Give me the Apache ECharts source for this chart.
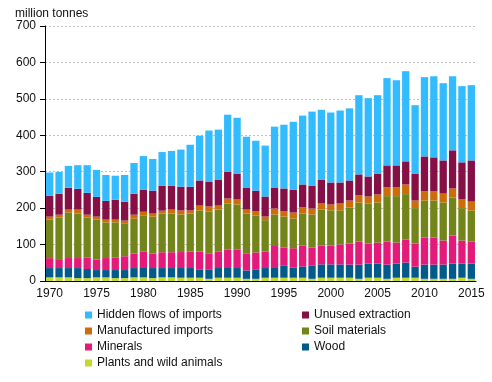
<!DOCTYPE html>
<html><head><meta charset="utf-8">
<script src="https://cdn.jsdelivr.net/npm/echarts@6/dist/echarts.min.js"></script>
<style>html,body{margin:0;padding:0;background:#fff}#c{width:492px;height:382px}</style>
</head><body><div id="c"></div>
<script>
var years = [];
for (var y = 1970; y <= 2015; y++) years.push(String(y));
var yTicks = [0,100,200,300,400,500,600,700];

var plants = [10,10,10,8,8,10,10,8,8,10,10,8,10,10,9,9,9,6,9,9,9,6,6,9,9,9,9,9,6,9,9,9,9,6,9,9,6,9,9,9,6,6,6,6,9,6];
var wood = [25.5,25.5,25.5,27.5,25,20,20,22,22,25.5,28,27.5,25.5,25.5,26.6,26.6,23,26,26.6,29,26.6,23,26,26.6,29,34,28.4,31,37,36.7,36.5,36.5,36,39,38.7,38.7,39,38.7,41.5,30.4,39,39,39,41.7,38.7,41.7];
var minerals = [27.3,24.5,27.5,27.5,31.7,29,33,34.7,38,40.1,43,40.1,43.5,43.5,43.9,45.4,49,44,45.4,48.8,51.2,47,46.5,45.4,58,49,52.6,57.7,49,52,52,54.8,57.8,63,55.1,57.8,63,57.8,63.3,63.4,74,74,66,77.1,63.3,60.3];
var soil = [105.7,114,125.5,122,109.3,109.5,98,96.3,90.5,95.4,98,101.1,106,106,103.1,104,112.6,115,115,126,123.2,109,101.5,86,86.6,85,81.7,87.3,90.6,98.3,96.5,93.7,99.2,107.6,110,110.1,125,127.5,124.7,97.2,102,102,104.6,104.2,89,85.6];
var manufactured = [8.2,8,7.5,11,8,8.2,7.5,7.5,7.3,11,11,8.3,8,11,11,8.6,13.4,13.6,11,13.7,13.7,11,11,10,16.4,14,16.3,17,16.4,16.8,16,18.8,19,19.4,19.2,22,24,24,26.5,21,25,25,24.4,25,24,24.4];
var unused = [57.3,57.5,60,57,60,54.3,51.5,54.5,51.9,57.5,60,63,68,65,65.4,65.4,69,68.4,71.5,73.5,71.3,60.6,57,55,57.6,63,63,63,63,65.7,60.5,57.7,55,57.7,55,57.4,60.4,60.4,63.4,74,96,93.4,91,104.7,101.7,113];
var hidden = [63.8,60.1,60,65,76,74,71,66,73.3,84.5,93,87,93,96,101.7,115,123,140,137,156.6,153,139.4,137,139.7,167.1,175,186,189,203,191.5,192,197.5,198,217.3,215,215,239.6,233.6,247.6,187.6,217.6,222.6,212,203.3,209.3,206.6];

var names = ['Plants and wild animals','Wood','Minerals','Soil materials','Manufactured imports','Unused extraction','Hidden flows of imports'];
var colors = ['#c4d82e','#005a8a','#e31a7a','#738419','#cc6d0a','#851046','#33bbff'];
var datas = [plants, wood, minerals, soil, manufactured, unused, hidden];

var FONT = '"Liberation Sans", Arial, sans-serif';
var series = names.map(function(n, i){
  return {
    name: n, type: 'bar', stack: 'total', data: datas[i],
    itemStyle: {color: colors[i]}, barCategoryGap: '22%',
    emphasis: {disabled: true}
  };
});

var chart = echarts.init(document.getElementById('c'), null, {renderer: 'canvas'});
chart.setOption({
  animation: false,
  textStyle: {fontFamily: FONT},
  title: {text: 'million tonnes', left: 10, top: 3,
    textStyle: {fontFamily: FONT, fontSize: 12, fontWeight: 'normal', color: '#111'}},
  grid: {left: 45, right: 16, top: 26, bottom: 101, containLabel: false},
  legend: [
    {orient: 'vertical', left: 80, top: 303, itemWidth: 7, itemHeight: 7, itemGap: 2,
     icon: 'rect', selectedMode: false,
     data: ['Hidden flows of imports','Manufactured imports','Minerals','Plants and wild animals'],
     textStyle: {fontFamily: FONT, fontSize: 12, color: '#111', lineHeight: 14}},
    {orient: 'vertical', left: 297, top: 303, itemWidth: 7, itemHeight: 7, itemGap: 2,
     icon: 'rect', selectedMode: false,
     data: ['Unused extraction','Soil materials','Wood'],
     textStyle: {fontFamily: FONT, fontSize: 12, color: '#111', lineHeight: 14}}
  ],
  xAxis: {
    type: 'category', data: years,
    axisLine: {lineStyle: {color: '#000', width: 1}},
    axisTick: {interval: 4, length: 4, lineStyle: {color: '#000'}},
    axisLabel: {interval: 4, margin: 7, fontFamily: FONT, fontSize: 12, color: '#111'}
  },
  yAxis: {
    type: 'value', min: yTicks[0], max: yTicks[yTicks.length-1], interval: 100,
    axisLine: {show: true, lineStyle: {color: '#000', width: 1}},
    axisTick: {show: true, length: 5, lineStyle: {color: '#000'}},
    axisLabel: {margin: 9, fontFamily: FONT, fontSize: 12, color: '#111'},
    splitLine: {lineStyle: {color: '#c0c0c0', type: [2,2], width: 1}}
  },
  series: series
});
</script></body></html>
